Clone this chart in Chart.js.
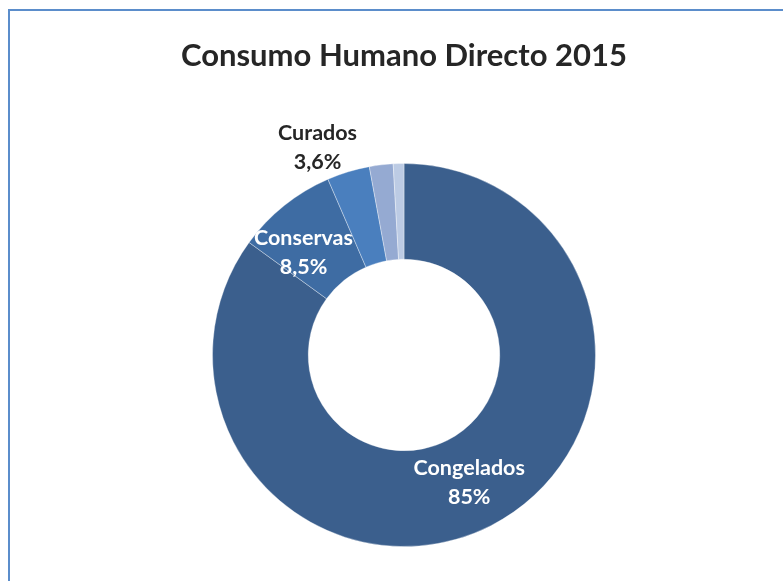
<!DOCTYPE html>
<html>
<head>
<meta charset="utf-8">
<script src="https://cdn.jsdelivr.net/npm/chart.js@4"></script>
<style>
  html, body { margin: 0; padding: 0; background: #fff; overflow: hidden; }
  #wrap { position: relative; width: 783px; height: 581px; }
  #frame { position: absolute; left: 8px; top: 9px; width: 800px; height: 600px; border: 2px solid #5b8dcb; }
  canvas { position: absolute; left: 0; top: 0; }
</style>
</head>
<body>
<div id="wrap">
  <div id="frame"></div>
  <canvas id="chart" width="783" height="581"></canvas>
</div>
<script>
const categories = ["Congelados", "Conservas", "Curados", "Otros 1", "Otros 2"];
const values = [85, 8.5, 3.6, 2.0, 0.9];
const colors = ["#3b5f8d", "#3e6ca3", "#4a7fbe", "#95aad2", "#bccbe4"];
// donde va la etiqueta de cada porción: dentro, fuera o nada
const labelPlace = ["in", "in", "out", null, null];

function fmt(v) {
    return (Number.isInteger(v) ? String(v) : v.toFixed(1).replace(".", ",")) + "%";
}

const sliceLabels = {
    id: "sliceLabels",
    afterDatasetsDraw(chart) {
        const ctx = chart.ctx;
        const arcs = chart.getDatasetMeta(0).data;
        ctx.save();
        ctx.font = "bold 21.5px Lato";
        ctx.textAlign = "center";
        ctx.textBaseline = "middle";
        arcs.forEach((arc, i) => {
            const place = labelPlace[i];
            if (!place) return;
            const p = arc.getProps(["x", "y", "startAngle", "endAngle", "innerRadius", "outerRadius"], true);
            let mid = (p.startAngle + p.endAngle) / 2;
            let r;
            if (place === "in") {
                r = (p.innerRadius + p.outerRadius) / 2;
                if (i === 1) mid -= 0.1;
                ctx.fillStyle = "#ffffff";
            } else {
                r = p.outerRadius + 33;
                mid -= 0.1;
                ctx.fillStyle = "#262626";
            }
            const cx = p.x + Math.cos(mid) * r;
            const cy = p.y + Math.sin(mid) * r;
            ctx.fillText(categories[i], cx, cy - 14.5);
            ctx.fillText(fmt(values[i]), cx, cy + 14.5);
        });
        ctx.restore();
    }
};

new Chart(document.getElementById("chart"), {
    type: "doughnut",
    data: {
        labels: categories,
        datasets: [{
            data: values,
            backgroundColor: colors,
            borderColor: "rgba(255,255,255,0.35)",
            borderWidth: 1
        }]
    },
    options: {
        responsive: false,
        animation: false,
        cutout: "50%",
        layout: { padding: { left: 25, right: 0, top: 0, bottom: 34 } },
        plugins: {
            legend: { display: false },
            tooltip: { enabled: false },
            title: {
                display: true,
                text: "Consumo Humano Directo 2015",
                color: "#262626",
                font: { family: "Lato", size: 31, weight: "bold" },
                padding: { top: 37, bottom: 88.8 }
            }
        }
    },
    plugins: [sliceLabels]
});
</script>
</body>
</html>
